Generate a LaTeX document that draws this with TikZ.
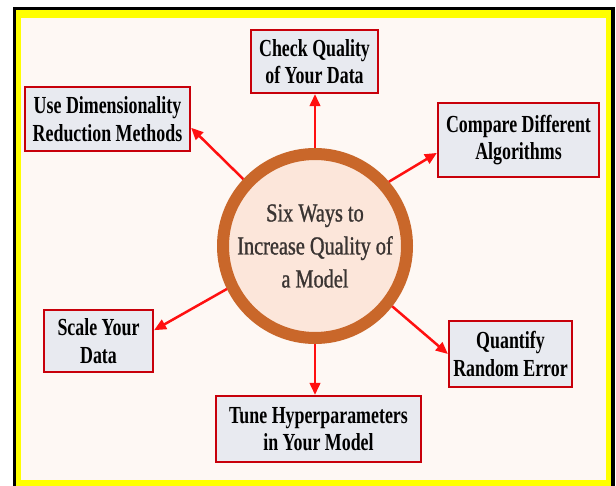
\documentclass[tikz,border=0pt]{standalone}
\usepackage{fontspec}
\usetikzlibrary{arrows.meta,calc}
\newfontfamily\boxfont[FakeStretch=0.73]{Liberation Serif}
\newfontfamily\centerfont[FakeStretch=0.78,FakeBold=1.1]{Liberation Serif}
\definecolor{cream}{HTML}{FEF8F4}
\definecolor{framey}{HTML}{FFFF00}
\definecolor{boxfill}{HTML}{E8EAF0}
\definecolor{boxline}{HTML}{C8000A}
\definecolor{ringc}{HTML}{C9672A}
\definecolor{peach}{HTML}{FCE6DA}
\definecolor{ctext}{HTML}{3A3432}
\definecolor{arrowred}{HTML}{FF1010}
\tikzset{
  waybox/.style={draw=boxline, line width=2.2pt, fill=boxfill, inner sep=0pt,
    align=center, text=black, font=\boxfont\bfseries\fontsize{24.5}{27.5}\selectfont},
  conn/.style={draw=arrowred, line width=2.5pt, -{Triangle[length=12pt,width=10.5pt]}}
}
\begin{document}
\begin{tikzpicture}[x=1pt,y=-1pt]
\useasboundingbox (0,0) rectangle (616,486);
\fill[white] (0,0) rectangle (616,486);
\fill[black] (13,7.5) rectangle (614.5,490);
\fill[framey] (15.5,10) rectangle (611,490);
\fill[cream] (21,18.5) rectangle (606,480);

\node[circle, draw=ringc, line width=12pt, fill=peach, minimum size=184pt, inner sep=0pt,
  align=center, text=ctext, font=\centerfont\fontsize{26}{33}\selectfont] (c) at (315,246)
  {Six Ways to\\Increase Quality of\\a Model};

\node[waybox, minimum width=127pt, minimum height=63pt] (check) at (314.5,61.5) {Check Quality\\of Your Data};
\node[waybox, minimum width=165pt, minimum height=64pt] (dim) at (107.5,119) {Use Dimensionality\\Reduction Methods};
\node[waybox, minimum width=161pt, minimum height=74pt] (cmp) at (518.5,140) {Compare Different\\Algorithms};
\node[waybox, minimum width=109pt, minimum height=62pt] (scale) at (98.5,341) {Scale Your\\Data};
\node[waybox, minimum width=123pt, minimum height=66pt] (quant) at (510.5,354) {Quantify\\Random Error};
\node[waybox, minimum width=205pt, minimum height=66pt] (tune) at (318.5,429) {Tune Hyperparameters\\in Your Model};

\draw[conn] ($(c.center)+(0,-98)$) -- (c.center |- check.south);
\draw[conn] ($(c.center)+(-137:98)$) -- (dim.-6);
\draw[conn] ($(c.center)+(-41:98)$) -- (cmp.-171.5);
\draw[conn] ($(c.center)+(-206:98)$) -- (scale.11);
\draw[conn] ($(c.center)+(38:98)$) -- (quant.west);
\draw[conn] ($(c.center)+(0,98)$) -- (c.center |- tune.north);
\end{tikzpicture}
\end{document}
